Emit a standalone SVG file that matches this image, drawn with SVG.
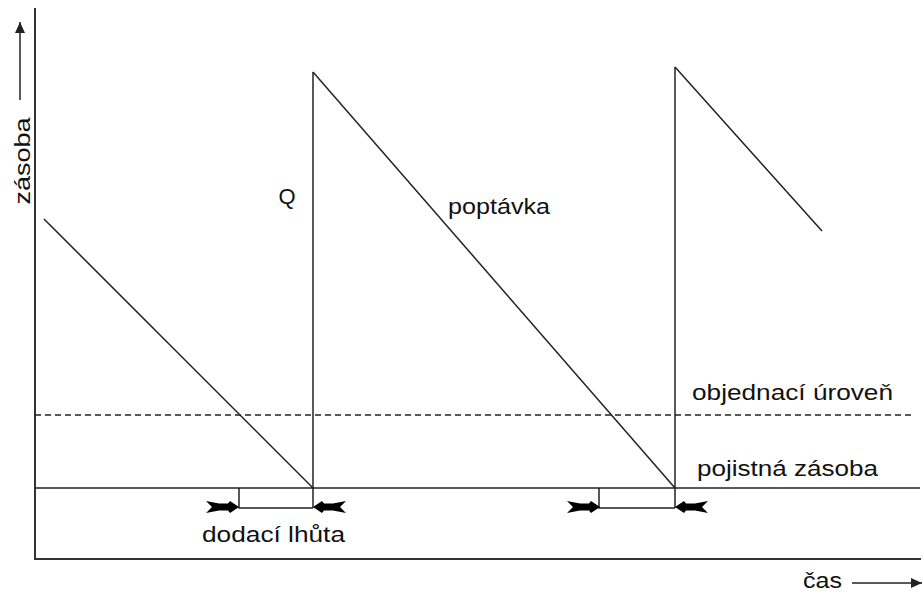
<svg xmlns="http://www.w3.org/2000/svg" width="923" height="595" viewBox="0 0 923 595">
<style>
.ln{stroke:#222;stroke-width:1.5;fill:none}
.ax{stroke:#333;stroke-width:2;fill:none}
.t{font-family:"Liberation Sans",Arial,sans-serif;font-size:22px;fill:#111}
</style>
<defs>
<path id="arr" d="M0,0 L-9,-6 L-11,-3.5 L-20,-3.5 L-33,-6 L-27,0 L-33,6 L-20,3.5 L-11,3.5 L-9,6 Z" fill="#000"/>
<marker id="ah" markerWidth="12" markerHeight="12" refX="11" refY="6" orient="auto" markerUnits="userSpaceOnUse">
<path d="M0,1 L11,6 L0,11 Z" fill="#222"/>
</marker>
</defs>
<rect width="923" height="595" fill="#fff"/>
<g id="axes">
<line class="ax" x1="35" y1="8" x2="35" y2="559"/>
<line class="ax" x1="34" y1="559" x2="921" y2="559"/>
<line class="ln" x1="20" y1="100" x2="20" y2="22" marker-end="url(#ah)"/>
<text class="t" transform="translate(30,161) rotate(-90)" text-anchor="middle" textLength="87" lengthAdjust="spacingAndGlyphs">zásoba</text>
<text class="t" x="803" y="588" textLength="39" lengthAdjust="spacingAndGlyphs">čas</text>
<line class="ln" x1="852" y1="583" x2="922" y2="583" marker-end="url(#ah)"/>
</g>
<g id="levels">
<line class="ln" x1="35" y1="488" x2="920" y2="488"/>
<line class="ln" x1="35" y1="415" x2="915" y2="415" stroke-dasharray="6,4"/>
<text class="t" x="692" y="400" textLength="201" lengthAdjust="spacingAndGlyphs">objednací úroveň</text>
<text class="t" x="697" y="476" textLength="181" lengthAdjust="spacingAndGlyphs">pojistná zásoba</text>
</g>
<g id="sawtooth">
<polyline class="ln" points="44,219 313,488"/>
<line class="ln" x1="313" y1="72" x2="313" y2="508"/>
<polyline class="ln" points="313,72 675,488"/>
<line class="ln" x1="675" y1="67" x2="675" y2="508"/>
<polyline class="ln" points="675,67 822,231"/>
<text class="t" x="287" y="204" text-anchor="middle">Q</text>
<text class="t" x="448" y="214" textLength="102" lengthAdjust="spacingAndGlyphs">poptávka</text>
</g>
<g id="lead1">
<polyline class="ln" points="239,488 239,508 313,508"/>
<use href="#arr" transform="translate(239,507)"/>
<use href="#arr" transform="translate(313,507) scale(-1,1)"/>
<text class="t" x="202" y="542" textLength="143" lengthAdjust="spacingAndGlyphs">dodací lhůta</text>
</g>
<g id="lead2">
<polyline class="ln" points="599,488 599,508 675,508"/>
<use href="#arr" transform="translate(600,507)"/>
<use href="#arr" transform="translate(675,507) scale(-1,1)"/>
</g>
</svg>
